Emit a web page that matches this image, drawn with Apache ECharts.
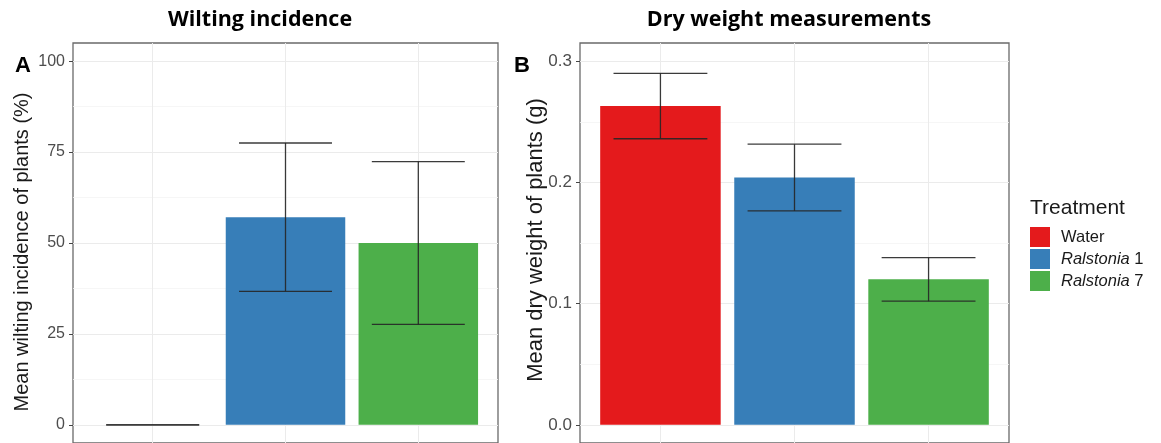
<!DOCTYPE html>
<html>
<head>
<meta charset="utf-8">
<script src="https://cdn.jsdelivr.net/npm/echarts@6/dist/echarts.min.js"></script>
<style>
  html, body { margin: 0; padding: 0; background: #ffffff; }
  #chart { width: 1161px; height: 443px; }
</style>
</head>
<body>
<div id="chart"></div>
<script>
// Treatment groups, drawn at positions 1, 2, 3 on each panel's x scale
const treatments = ['Water', 'Ralstonia 1', 'Ralstonia 7'];
const treatmentColors = ['#E41A1C', '#377EB8', '#4DAF4A'];

// Panel A: mean wilting incidence (%) and its standard error
const wiltMean = [0, 57.1, 50.0];
const wiltSE = [0, 20.4, 22.4];
const wiltTicks = [0, 25, 50, 75, 100];
const wiltMinor = [12.5, 37.5, 62.5, 87.5];

// Panel B: mean dry weight (g) and its standard error
const dryMean = [0.263, 0.204, 0.120];
const drySE = [0.027, 0.0275, 0.018];
const dryTicks = [0.0, 0.1, 0.2, 0.3];
const dryMinor = [0.05, 0.15, 0.25];

const xCentres = [1, 2, 3];

const chart = echarts.init(document.getElementById('chart'));

const SANS = '"Liberation Sans", Arial, sans-serif';

function valueAxisPair(gridIndex, min, max, ticks, minor, fontSize, fmt) {
  return [
    {
      type: 'value', gridIndex, min, max, position: 'left',
      axisLine: { show: false },
      axisTick: { show: true, customValues: ticks, length: 4, lineStyle: { color: '#444444', width: 1 } },
      axisLabel: { customValues: ticks, fontSize, color: '#4d4d4d', fontFamily: SANS, margin: 8, formatter: fmt },
      splitLine: { show: true, lineStyle: { color: '#ebebeb', width: 1 } }
    },
    {
      type: 'value', gridIndex, min, max, position: 'right',
      axisLine: { show: false },
      axisTick: { show: false, customValues: minor },
      axisLabel: { show: false },
      splitLine: { show: true, lineStyle: { color: '#f4f4f4', width: 0.8 } }
    }
  ];
}

function xAxis(gridIndex) {
  return {
    type: 'value', gridIndex, min: 0.4, max: 3.6,
    axisLine: { show: false },
    axisTick: { show: false, customValues: xCentres },
    axisLabel: { show: false },
    splitLine: { show: true, lineStyle: { color: '#ebebeb', width: 1 } }
  };
}

function barSeries(gridIndex, means, barWidth) {
  return treatments.map((name, i) => ({
    type: 'bar', name,
    xAxisIndex: gridIndex, yAxisIndex: gridIndex * 2,
    barWidth, barGap: '-100%',
    itemStyle: { color: treatmentColors[i] },
    data: [[xCentres[i], means[i]]],
    z: 2
  }));
}

function errorSeries(gridIndex, means, ses) {
  return {
    type: 'custom',
    xAxisIndex: gridIndex, yAxisIndex: gridIndex * 2,
    data: means.map((m, i) => [xCentres[i], m - ses[i], m + ses[i]]),
    z: 5,
    silent: true,
    renderItem(params, api) {
      const x = api.value(0);
      const lo = api.coord([x, api.value(1)]);
      const hi = api.coord([x, api.value(2)]);
      const half = api.size([0.7, 0])[0] / 2;
      const style = { stroke: '#262626', lineWidth: 1.3, opacity: 0.9 };
      return {
        type: 'group',
        children: [
          { type: 'line', shape: { x1: lo[0], y1: lo[1], x2: hi[0], y2: hi[1] }, style },
          { type: 'line', shape: { x1: lo[0] - half, y1: lo[1], x2: lo[0] + half, y2: lo[1] }, style },
          { type: 'line', shape: { x1: hi[0] - half, y1: hi[1], x2: hi[0] + half, y2: hi[1] }, style }
        ]
      };
    }
  };
}

const option = {
  backgroundColor: '#ffffff',
  animation: false,
  grid: [
    { left: 73, top: 43, width: 425, height: 401, show: true, borderColor: '#6a6a6a', borderWidth: 1.3, backgroundColor: '#ffffff' },
    { left: 580, top: 43, width: 429, height: 401, show: true, borderColor: '#6a6a6a', borderWidth: 1.3, backgroundColor: '#ffffff' }
  ],
  xAxis: [xAxis(0), xAxis(1)],
  yAxis: [
    ...valueAxisPair(0, -5, 105, wiltTicks, wiltMinor, 16, v => String(v)),
    ...valueAxisPair(1, -0.015, 0.315, dryTicks, dryMinor, 17, v => v.toFixed(1))
  ],
  legend: {
    orient: 'vertical', left: 1030, top: 227, padding: 0,
    itemWidth: 20, itemHeight: 20, itemGap: 2,
    icon: 'rect',
    data: treatments,
    textStyle: {
      fontFamily: SANS, fontSize: 16.5, color: '#1a1a1a', padding: [0, 0, 0, 6],
      rich: {
        i: { fontStyle: 'italic', fontFamily: SANS, fontSize: 16.5, color: '#1a1a1a' },
        n: { fontFamily: SANS, fontSize: 16.5, color: '#1a1a1a' }
      }
    },
    formatter: name => name.startsWith('Ralstonia')
      ? '{i|Ralstonia} {n|' + name.slice(10) + '}'
      : '{n|' + name + '}'
  },
  graphic: [
    { type: 'text', x: 260, y: 20, style: { text: 'Wilting incidence', font: 'bold 21.5px "Open Sans", sans-serif', fill: '#000000', textAlign: 'center', textVerticalAlign: 'middle' } },
    { type: 'text', x: 789, y: 20, style: { text: 'Dry weight measurements', font: 'bold 21.5px "Open Sans", sans-serif', fill: '#000000', textAlign: 'center', textVerticalAlign: 'middle' } },
    { type: 'text', x: 23, y: 66, style: { text: 'A', font: 'bold 22px "Liberation Sans", Arial, sans-serif', fill: '#000000', textAlign: 'center', textVerticalAlign: 'middle' } },
    { type: 'text', x: 522, y: 66, style: { text: 'B', font: 'bold 22px "Liberation Sans", Arial, sans-serif', fill: '#000000', textAlign: 'center', textVerticalAlign: 'middle' } },
    { type: 'text', x: 22, y: 252, rotation: Math.PI / 2, style: { text: 'Mean wilting incidence of plants (%)', font: '20px "Liberation Sans", Arial, sans-serif', fill: '#1a1a1a', textAlign: 'center', textVerticalAlign: 'middle' } },
    { type: 'text', x: 536, y: 240, rotation: Math.PI / 2, style: { text: 'Mean dry weight of plants (g)', font: '22px "Liberation Sans", Arial, sans-serif', fill: '#1a1a1a', textAlign: 'center', textVerticalAlign: 'middle' } },
    { type: 'text', x: 1030, y: 208, style: { text: 'Treatment', font: '21px "Liberation Sans", Arial, sans-serif', fill: '#1a1a1a', textAlign: 'left', textVerticalAlign: 'middle' } }
  ],
  series: [
    ...barSeries(0, wiltMean, 119.5),
    errorSeries(0, wiltMean, wiltSE),
    ...barSeries(1, dryMean, 120.5),
    errorSeries(1, dryMean, drySE)
  ]
};

chart.setOption(option);
</script>
</body>
</html>
